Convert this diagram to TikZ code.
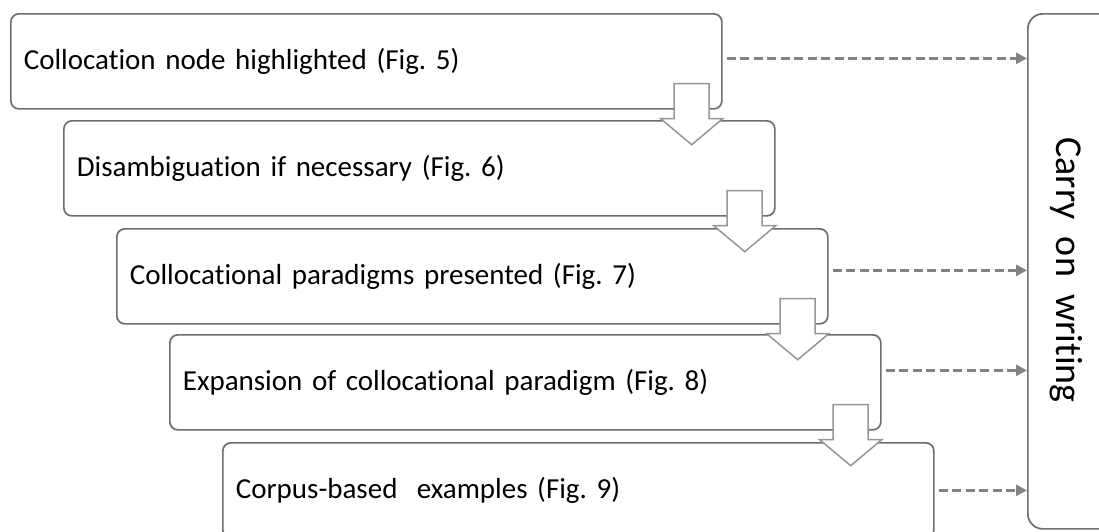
\documentclass[tikz,border=0pt]{standalone}
\usepackage{fontspec}
\setmainfont[Ligatures=NoCommon]{Carlito}
\usetikzlibrary{calc,arrows.meta}
\definecolor{boxline}{RGB}{110,110,110}
\definecolor{arrline}{RGB}{150,150,150}
\definecolor{dashline}{RGB}{130,130,130}
\frenchspacing
\tikzset{
  stepbox/.style={draw=boxline, line width=1.7pt, rounded corners=8pt, fill=white,
    anchor=north west, minimum width=711pt, minimum height=95pt,
    text width=685pt, align=left, inner xsep=13pt, font=\fontsize{29}{34}\selectfont},
  blockarrow/.style={draw=arrline, line width=1.5pt, fill=white, line join=miter},
  dasharrow/.style={draw=dashline, line width=3pt, dash pattern=on 9pt off 4.5pt,
    -{Triangle[length=11pt,width=11pt]}},
}
\begin{document}
\begin{tikzpicture}[x=1pt,y=-1pt]
\useasboundingbox (0,0) rectangle (1099,531);
\clip (0,0) rectangle (1099,531);
\node[stepbox] (b1) at (10,13) {Collocation node highlighted (Fig. 5)};
\node[stepbox] (b2) at (63,120) {Disambiguation if necessary (Fig. 6)};
\node[stepbox] (b3) at (116,228) {Collocational paradigms presented (Fig. 7)};
\node[stepbox] (b4) at (169,334) {Expansion of collocational paradigm (Fig. 8)};
\node[stepbox] (b5) at (222,442) {Corpus-based~ examples (Fig. 9)};
\node[draw=boxline, line width=1.7pt, rounded corners=15pt, fill=white,
  anchor=north west, minimum width=110pt, minimum height=515pt] (cw) at (1027,13) {};
\node[rotate=-90, font=\fontsize{38}{44}\selectfont] (cwt) at (1066,270) {Carry~ on~ writing};
% block arrows
\foreach \i in {1,2,3,4}{
  \coordinate (c\i) at ($(b\i.south east)+(-31,0)$);
  \draw[blockarrow] ($(c\i)+(-17.5,-26)$) -- ($(c\i)+(17.5,-26)$) -- ($(c\i)+(17.5,9)$)
    -- ($(c\i)+(31,9)$) -- ($(c\i)+(0,35)$) -- ($(c\i)+(-31,9)$) -- ($(c\i)+(-17.5,9)$) -- cycle;
}
% dashed arrows
\draw[dasharrow] ($(b1.east)+(4,-3)$) -- (cw.west |- {$(b1.east)+(4,-3)$});
\draw[dasharrow] ($(b3.east)+(4,-6)$) -- (cw.west |- {$(b3.east)+(4,-6)$});
\draw[dasharrow] ($(b4.east)+(4,-12)$) -- (cw.west |- {$(b4.east)+(4,-12)$});
\draw[dasharrow] ($(b5.east)+(4,0)$) -- (cw.west |- {$(b5.east)+(4,0)$});
\end{tikzpicture}
\end{document}
